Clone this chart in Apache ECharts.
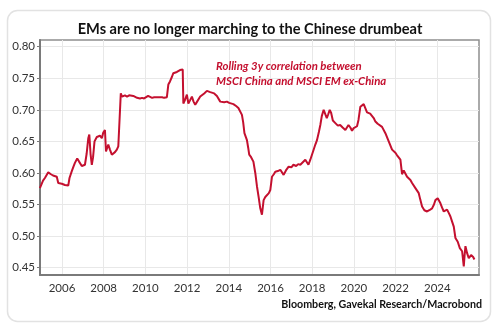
<!DOCTYPE html>
<html>
<head>
<meta charset="utf-8">
<script src="https://cdn.jsdelivr.net/npm/echarts@6/dist/echarts.min.js"></script>
<style>
  html, body { margin: 0; padding: 0; background: #fff; }
  #chart { width: 500px; height: 327px; }
</style>
</head>
<body>
<div id="chart"></div>
<script>
// Rolling 3-year correlation, MSCI China vs MSCI EM ex-China (decimal years)
const dates = [
  2004.94, 2004.99, 2005.09, 2005.18, 2005.34, 2005.47, 2005.57, 2005.66, 2005.75, 2005.82,
  2005.90, 2005.99, 2006.06, 2006.14, 2006.23, 2006.30, 2006.36, 2006.47, 2006.55, 2006.62,
  2006.73, 2006.82, 2006.95, 2007.02, 2007.10, 2007.18, 2007.26, 2007.31, 2007.37, 2007.43,
  2007.49, 2007.56, 2007.67, 2007.75, 2007.82, 2007.91, 2007.98, 2008.06, 2008.11, 2008.16,
  2008.22, 2008.30, 2008.39, 2008.47, 2008.54, 2008.63, 2008.70, 2008.76, 2008.82, 2008.88,
  2008.94, 2009.02, 2009.12, 2009.22, 2009.31, 2009.42, 2009.50, 2009.60, 2009.74, 2009.84,
  2009.94, 2010.03, 2010.13, 2010.22, 2010.32, 2010.42, 2010.51, 2010.61, 2010.70, 2010.80,
  2010.90, 2011.03, 2011.10, 2011.18, 2011.27, 2011.34, 2011.42, 2011.51, 2011.59, 2011.66,
  2011.74, 2011.79, 2011.82, 2011.90, 2011.99, 2012.06, 2012.14, 2012.23, 2012.31, 2012.39,
  2012.48, 2012.63, 2012.72, 2012.82, 2012.95, 2013.01, 2013.11, 2013.20, 2013.30, 2013.43,
  2013.49, 2013.59, 2013.68, 2013.78, 2013.91, 2014.02, 2014.11, 2014.22, 2014.35, 2014.46,
  2014.55, 2014.63, 2014.69, 2014.75, 2014.81, 2014.87, 2014.93, 2014.98, 2015.07, 2015.18,
  2015.27, 2015.35, 2015.43, 2015.51, 2015.59, 2015.67, 2015.75, 2015.83, 2015.92, 2015.99,
  2016.07, 2016.16, 2016.23, 2016.35, 2016.47, 2016.63, 2016.74, 2016.87, 2017.00, 2017.10,
  2017.23, 2017.33, 2017.43, 2017.55, 2017.67, 2017.74, 2017.82, 2017.91, 2018.06, 2018.15,
  2018.23, 2018.32, 2018.39, 2018.46, 2018.55, 2018.63, 2018.70, 2018.77, 2018.84, 2018.91,
  2018.99, 2019.11, 2019.23, 2019.34, 2019.46, 2019.59, 2019.67, 2019.74, 2019.83, 2019.91,
  2019.99, 2020.07, 2020.15, 2020.22, 2020.31, 2020.38, 2020.47, 2020.55, 2020.63, 2020.70,
  2020.78, 2020.86, 2020.95, 2021.02, 2021.14, 2021.22, 2021.35, 2021.42, 2021.51, 2021.59,
  2021.67, 2021.75, 2021.83, 2021.91, 2021.99, 2022.07, 2022.16, 2022.23, 2022.31, 2022.39,
  2022.47, 2022.55, 2022.63, 2022.71, 2022.79, 2022.87, 2022.95, 2023.03, 2023.11, 2023.19,
  2023.27, 2023.38, 2023.51, 2023.62, 2023.75, 2023.84, 2023.91, 2024.02, 2024.08, 2024.15,
  2024.23, 2024.31, 2024.39, 2024.47, 2024.56, 2024.63, 2024.71, 2024.79, 2024.87, 2024.93,
  2024.98, 2025.08, 2025.19, 2025.27, 2025.31, 2025.35, 2025.43, 2025.51, 2025.62, 2025.72,
  2025.78
];
const correlation = [
  0.576, 0.575, 0.588, 0.592, 0.601, 0.598, 0.596, 0.597, 0.594, 0.584,
  0.586, 0.583, 0.585, 0.581, 0.578, 0.580, 0.592, 0.603, 0.610, 0.616,
  0.623, 0.618, 0.611, 0.614, 0.613, 0.630, 0.655, 0.661, 0.630, 0.613,
  0.625, 0.650, 0.657, 0.654, 0.659, 0.655, 0.664, 0.668, 0.634, 0.636,
  0.645, 0.637, 0.629, 0.631, 0.633, 0.637, 0.642, 0.640, 0.726, 0.721,
  0.720, 0.723, 0.721, 0.723, 0.721, 0.722, 0.720, 0.719, 0.718, 0.719,
  0.718, 0.720, 0.722, 0.721, 0.719, 0.720, 0.722, 0.720, 0.719, 0.720,
  0.719, 0.720, 0.740, 0.745, 0.752, 0.758, 0.757, 0.760, 0.759, 0.763,
  0.762, 0.764, 0.710, 0.716, 0.724, 0.710, 0.715, 0.721, 0.713, 0.708,
  0.713, 0.721, 0.722, 0.726, 0.730, 0.727, 0.728, 0.725, 0.726, 0.722,
  0.719, 0.713, 0.714, 0.712, 0.713, 0.711, 0.710, 0.709, 0.706, 0.703,
  0.700, 0.692, 0.680, 0.663, 0.660, 0.652, 0.640, 0.629, 0.625, 0.618,
  0.600, 0.579, 0.562, 0.544, 0.534, 0.557, 0.562, 0.563, 0.568, 0.573,
  0.594, 0.598, 0.602, 0.603, 0.605, 0.597, 0.604, 0.610, 0.609, 0.613,
  0.611, 0.614, 0.613, 0.617, 0.621, 0.619, 0.613, 0.621, 0.636, 0.645,
  0.652, 0.665, 0.676, 0.690, 0.700, 0.698, 0.687, 0.693, 0.700, 0.695,
  0.683, 0.679, 0.675, 0.676, 0.672, 0.668, 0.667, 0.676, 0.672, 0.667,
  0.671, 0.673, 0.674, 0.684, 0.705, 0.708, 0.709, 0.708, 0.696, 0.697,
  0.694, 0.693, 0.687, 0.682, 0.678, 0.676, 0.673, 0.670, 0.663, 0.660,
  0.650, 0.648, 0.637, 0.636, 0.632, 0.628, 0.625, 0.621, 0.598, 0.604,
  0.601, 0.594, 0.592, 0.589, 0.584, 0.581, 0.576, 0.572, 0.568, 0.557,
  0.547, 0.541, 0.539, 0.541, 0.544, 0.550, 0.557, 0.560, 0.558, 0.552,
  0.545, 0.539, 0.541, 0.542, 0.536, 0.531, 0.523, 0.515, 0.497, 0.498,
  0.491, 0.481, 0.476, 0.452, 0.470, 0.484, 0.473, 0.465, 0.470, 0.467,
  0.463
];
const yearTicks = [2006, 2008, 2010, 2012, 2014, 2016, 2018, 2020, 2022, 2024];
const valueTicks = [0.45, 0.50, 0.55, 0.60, 0.65, 0.70, 0.75, 0.80];

const titleText = 'EMs are no longer marching to the Chinese drumbeat';
const noteLines = ['Rolling 3y correlation between', 'MSCI China and MSCI EM ex-China'];
const sourceText = 'Bloomberg, Gavekal Research/Macrobond';

const RED = '#c4102f';
const FONT = 'Lato, "Open Sans", sans-serif';

const chart = echarts.init(document.getElementById('chart'), null, { renderer: 'canvas' });

chart.setOption({
  backgroundColor: '#ffffff',
  animation: false,
  title: {
    text: titleText,
    left: 'center',
    top: 17,
    textStyle: { fontFamily: FONT, fontWeight: 'bold', fontSize: 14.6, color: '#111' }
  },
  grid: {
    left: 40, right: 21, top: 40, bottom: 52,
    show: true, borderColor: '#8f8f8f', borderWidth: 1.5
  },
  xAxis: {
    type: 'value',
    min: 2004.945,
    max: 2026.0,
    axisLine: { show: true, onZero: false, lineStyle: { color: '#7a7a7a', width: 2 } },
    axisTick: { show: false, customValues: yearTicks },
    axisLabel: {
      customValues: yearTicks,
      margin: 7,
      fontFamily: FONT, fontSize: 11.5, color: '#333',
      formatter: v => String(Math.round(v))
    },
    splitLine: { show: true, lineStyle: { color: '#e8e8e8', width: 1 } }
  },
  yAxis: {
    type: 'value',
    min: 0.4384,
    max: 0.8106,
    axisLine: { show: true, onZero: false, lineStyle: { color: '#7a7a7a', width: 2 } },
    axisTick: { show: true, length: 3, customValues: valueTicks, lineStyle: { color: '#7a7a7a' } },
    axisLabel: {
      customValues: valueTicks,
      margin: 5,
      fontFamily: FONT, fontSize: 11.5, color: '#333',
      formatter: v => v.toFixed(2)
    },
    splitLine: { show: true, lineStyle: { color: '#e8e8e8', width: 1 } }
  },
  series: [{
    type: 'line',
    data: dates.map((d, i) => [d, correlation[i]]),
    showSymbol: false,
    lineStyle: { color: RED, width: 2 },
    z: 5
  }],
  graphic: [
    {
      type: 'rect',
      shape: { x: 7.5, y: 10.5, width: 483, height: 311, r: 10 },
      style: { fill: 'none', stroke: '#e2e2e2', lineWidth: 1.5 },
      silent: true, z: -10
    },
    {
      type: 'text',
      left: 216, top: 59,
      z: 100,
      style: {
        text: noteLines.join('\n'),
        fill: RED,
        font: 'italic bold 11.4px ' + FONT,
        lineHeight: 15
      }
    },
    {
      type: 'text',
      right: 18, top: 299,
      z: 100,
      style: {
        text: sourceText,
        fill: '#111',
        font: 'bold 10.7px ' + FONT,
        align: 'right'
      }
    }
  ]
});
</script>
</body>
</html>
